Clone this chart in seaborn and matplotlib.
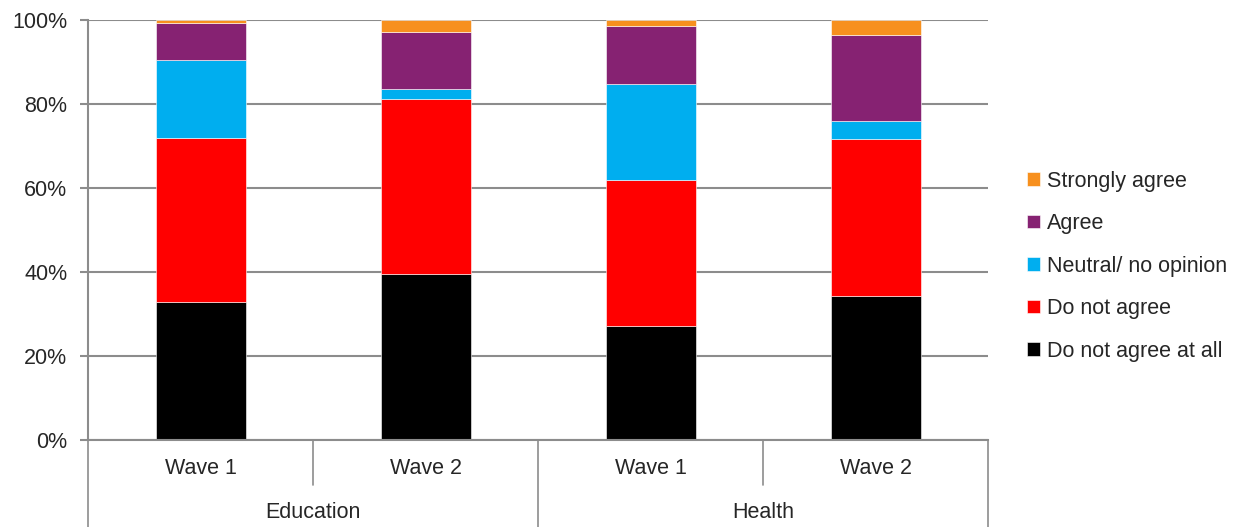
import matplotlib
matplotlib.use("Agg")
import matplotlib.pyplot as plt
import pandas as pd
import seaborn as sns
from matplotlib.ticker import FuncFormatter

# data (percent of respondents)
sectors = ["Education", "Health"]
waves = ["Wave 1", "Wave 2"]
responses = ["Do not agree at all", "Do not agree", "Neutral/ no opinion",
             "Agree", "Strongly agree"]
not_at_all = [32.8, 39.6, 27.2, 34.4]
not_agree = [39.2, 41.5, 34.7, 37.3]
neutral = [18.5, 2.4, 22.9, 4.3]
agree = [8.7, 13.7, 13.8, 20.5]
strongly = [0.8, 2.8, 1.4, 3.5]
colors = ["#000000", "#FF0000", "#00AEEF", "#862272", "#F7901E"]

GRID = "#8C8C8C"
FS = 15.5

sns.set_style("white")
plt.rcParams["font.family"] = ["Liberation Sans", "DejaVu Sans"]

bars = [f"{s} {w}" for s in sectors for w in waves]
df = pd.DataFrame({"bar": bars, "Do not agree at all": not_at_all,
                   "Do not agree": not_agree, "Neutral/ no opinion": neutral,
                   "Agree": agree, "Strongly agree": strongly})

fig = plt.figure(figsize=(12.55, 5.27), dpi=100)
ax = fig.add_axes([88 / 1255, 87 / 527, 900 / 1255, 420 / 527])

bottom = pd.Series([0.0] * len(df))
for resp, col in zip(responses, colors):
    sns.barplot(data=df, x="bar", y=resp, bottom=bottom.values, color=col,
                width=0.4, ax=ax, label=resp, edgecolor="white", linewidth=0.4,
                saturation=1)
    bottom = bottom + df[resp]

ax.set_xlim(-0.5, 3.5)
ax.set_ylim(0, 100)
ax.set_yticks(range(0, 101, 20))
ax.yaxis.set_major_formatter(FuncFormatter(lambda v, p: f"{v:.0f}%"))
ax.yaxis.grid(True, color=GRID, linewidth=1.5)
ax.set_axisbelow(True)
ax.tick_params(axis="y", left=True, length=6, width=1.5, color=GRID,
               labelsize=FS, pad=9)
ax.set_xticks([])
ax.set_xlabel("")
ax.set_ylabel("")
for side in ["top", "right"]:
    ax.spines[side].set_visible(False)
for side in ["left", "bottom"]:
    ax.spines[side].set_color(GRID)
    ax.spines[side].set_linewidth(1.5)

# two-level category axis underneath
short_y = -45 / 420
long_y = -87 / 420
for i, x in enumerate([-0.5, 0.5, 1.5, 2.5, 3.5]):
    y1 = long_y if i % 2 == 0 else short_y
    ax.plot([x, x], [0, y1], color=GRID, linewidth=1.2, clip_on=False,
            transform=ax.get_xaxis_transform())
for i, b in enumerate(bars):
    ax.text(i, -28 / 420, waves[i % 2], ha="center", va="center",
            fontsize=FS, transform=ax.get_xaxis_transform())
for j, s in enumerate(sectors):
    ax.text(2 * j + 0.5, -73 / 420, s, ha="center", va="center",
            fontsize=FS, transform=ax.get_xaxis_transform())

handles, labels = ax.get_legend_handles_labels()
ax.legend(handles[::-1], labels[::-1], loc="center left",
          bbox_to_anchor=(1.022, 0.414), frameon=False, fontsize=FS,
          handlelength=0.6, handleheight=0.6, handletextpad=0.3,
          labelspacing=1.0)

fig.savefig("out.png", dpi=100)
